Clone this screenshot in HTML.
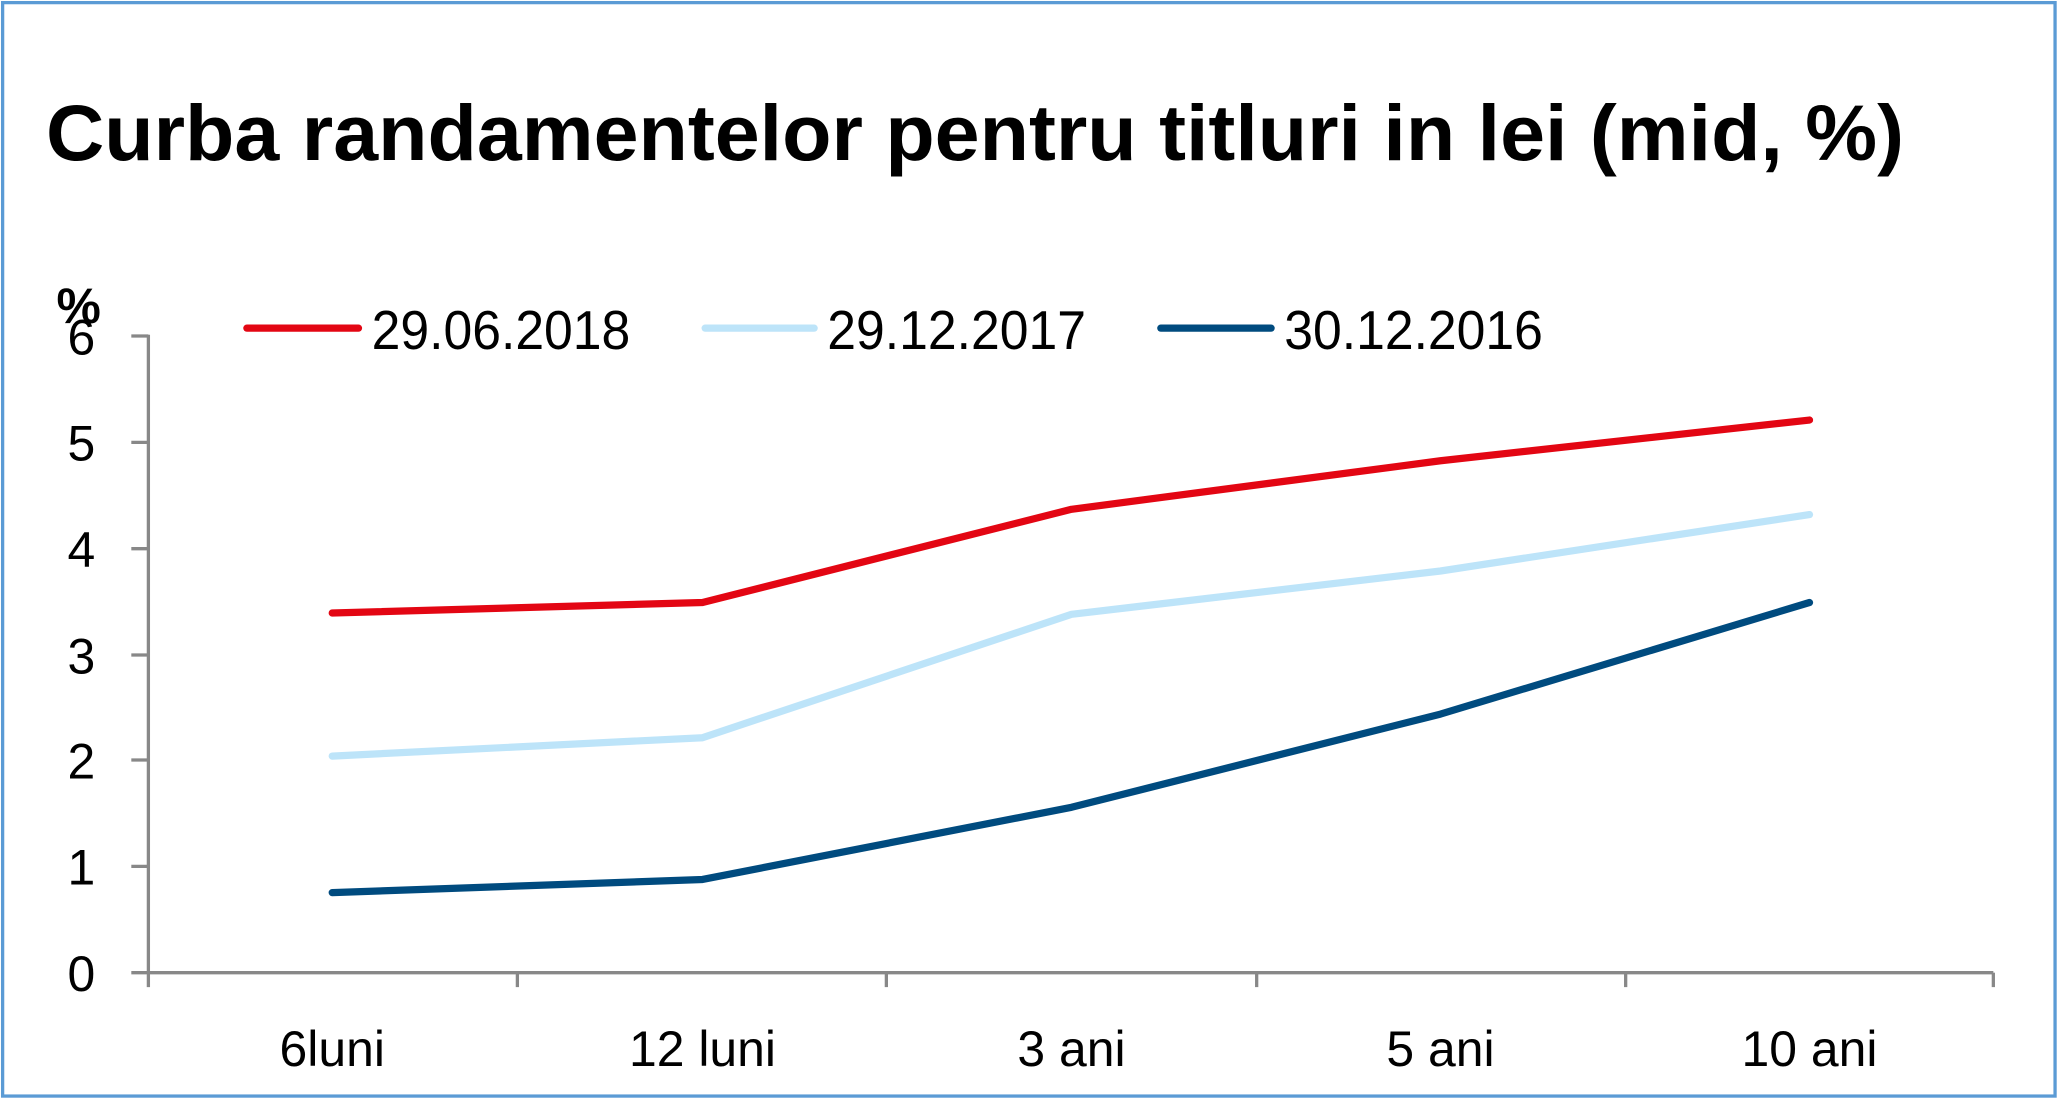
<!DOCTYPE html>
<html><head><meta charset="utf-8"><style>html,body{margin:0;padding:0;background:#fff;overflow:hidden}svg{display:block}</style></head>
<body>
<svg width="2059" height="1100" viewBox="0 0 1568 838" preserveAspectRatio="none" xmlns="http://www.w3.org/2000/svg" font-family="'Liberation Sans', sans-serif">
<rect x="0" y="0" width="1568" height="838" fill="#fff"/>
<rect x="2" y="2" width="1563" height="833" fill="none" stroke="#5b9bd5" stroke-width="2.5"/>
<text x="35" y="122" font-size="60" font-weight="bold" textLength="1415" lengthAdjust="spacingAndGlyphs">Curba randamentelor pentru titluri in lei (mid, %)</text>
<text x="43" y="246" font-size="38" font-weight="bold">%</text>
<g stroke="#888" stroke-width="2.5" fill="none">
<line x1="113" y1="255" x2="113" y2="752"/>
<line x1="100" y1="741" x2="1518" y2="741"/>
<line x1="100" y1="256" x2="113" y2="256"/>
<line x1="100" y1="337" x2="113" y2="337"/>
<line x1="100" y1="418" x2="113" y2="418"/>
<line x1="100" y1="499" x2="113" y2="499"/>
<line x1="100" y1="579" x2="113" y2="579"/>
<line x1="100" y1="660" x2="113" y2="660"/>
<line x1="394" y1="741" x2="394" y2="752"/>
<line x1="675" y1="741" x2="675" y2="752"/>
<line x1="957" y1="741" x2="957" y2="752"/>
<line x1="1238" y1="741" x2="1238" y2="752"/>
<line x1="1518" y1="741" x2="1518" y2="752"/>
</g>
<g font-size="38" text-anchor="middle">
<text x="62" y="270">6</text><text x="62" y="351">5</text><text x="62" y="432">4</text>
<text x="62" y="513">3</text><text x="62" y="593">2</text><text x="62" y="674">1</text><text x="62" y="755">0</text>
<text x="253" y="812">6luni</text><text x="535" y="812">12 luni</text><text x="816" y="812">3 ani</text>
<text x="1097" y="812">5 ani</text><text x="1378" y="812">10 ani</text>
</g>
<g fill="none" stroke-width="5.5" stroke-linecap="round" stroke-linejoin="round">
<polyline stroke="#004b7f" points="253,680 535,670 816,615 1097,544 1378,459"/>
<polyline stroke="#bde4f9" points="253,576 535,562 816,468 1097,435 1378,392"/>
<polyline stroke="#e30613" points="253,467 535,459 816,388 1097,351 1378,320"/>
<line stroke="#e30613" x1="188" y1="250" x2="273" y2="250"/>
<line stroke="#bde4f9" x1="537" y1="250" x2="620" y2="250"/>
<line stroke="#004b7f" x1="884" y1="250" x2="968" y2="250"/>
</g>
<g font-size="42">
<text x="283" y="266" textLength="197" lengthAdjust="spacingAndGlyphs">29.06.2018</text>
<text x="630" y="266" textLength="197" lengthAdjust="spacingAndGlyphs">29.12.2017</text>
<text x="978" y="266" textLength="197" lengthAdjust="spacingAndGlyphs">30.12.2016</text>
</g>
</svg>
</body></html>
